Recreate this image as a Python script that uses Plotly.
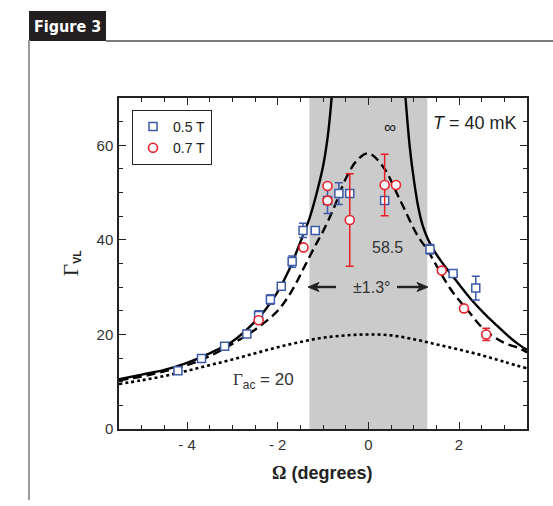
import plotly.graph_objects as go

# ---- data ----
sq_x = [-4.2, -3.68, -3.17, -2.68, -2.42, -2.16, -1.92, -1.68, -1.44, -1.17, -0.90, -0.65, -0.41, 0.36, 1.36, 1.87, 2.37]
sq_y = [12.3, 14.9, 17.5, 20.1, 24.0, 27.4, 30.2, 35.4, 42.0, 42.0, 48.3, 49.8, 49.8, 48.3, 38.0, 32.9, 29.8]
sq_err = [None, None, None, None, 1.0, 1.0, None, 1.2, 1.5, None, 2.7, 2.3, None, None, 1.0, None, 2.5]

ci_x = [-2.42, -1.43, -0.90, -0.90, -0.41, 0.36, 0.61, 1.62, 2.11, 2.60]
ci_y = [23.0, 38.4, 51.4, 48.3, 44.2, 51.6, 51.6, 33.5, 25.5, 20.0]
ci_err = [None, None, None, None, 9.8, 6.5, None, None, None, 1.3]

solid_x = [-5.5, -5.0, -4.5, -4.0, -3.5, -3.0, -2.5, -2.25, -2.0, -1.75, -1.5, -1.3, -1.15, -1.0, -0.9, -0.81, -0.74,
           None,
           0.74, 0.82, 0.91, 1.0, 1.1, 1.2, 1.32, 1.45, 1.62, 1.82, 2.0, 2.25, 2.56, 2.8, 3.07, 3.3, 3.5]
solid_y = [10.5, 11.5, 12.5, 14.0, 16.0, 18.5, 22.7, 25.5, 29.0, 33.6, 39.5, 44.5, 49.5, 55.5, 61.5, 70.0, 80.0,
           None,
           80.0, 70.0, 60.0, 53.0, 47.0, 43.0, 40.0, 37.7, 35.3, 32.8, 30.6, 27.6, 24.4, 22.2, 19.8, 18.0, 16.7]

dash_x = [-5.5, -5.0, -4.5, -4.0, -3.5, -3.0, -2.5, -2.04, -1.8, -1.59, -1.4, -1.18, -1.0, -0.78, -0.48, -0.25, 0.0,
          0.33, 0.7, 1.08, 1.3, 1.82, 2.2, 2.56, 3.0, 3.3, 3.5]
dash_y = [10.3, 11.1, 12.2, 13.5, 15.4, 18.0, 21.0, 24.6, 27.5, 30.9, 34.5, 38.6, 41.8, 46.3, 53.3, 56.8, 58.3,
          55.4, 48.4, 41.0, 37.9, 29.5, 25.0, 21.0, 18.2, 17.2, 16.2]

dot_x = [-5.5, -5.0, -4.5, -4.0, -3.5, -3.0, -2.5, -2.0, -1.5, -1.0, -0.5, 0.0, 0.5, 1.0, 1.5, 2.0, 2.5, 3.0, 3.5]
dot_y = [9.5, 10.3, 11.2, 12.3, 13.5, 14.7, 16.0, 17.3, 18.4, 19.3, 19.8, 20.0, 19.8, 19.0, 17.9, 16.8, 15.6, 14.2, 12.8]

band = [-1.3, 1.3]
x_ticks = [-4, -2, 0, 2]
x_tick_text = ["- 4", "- 2", "0", "2"]
y_ticks = [0, 20, 40, 60]

BLUE = "#3d5aa8"
RED = "#e8202a"
SANS = "Liberation Sans, Arial, sans-serif"

fig = go.Figure()

fig.add_trace(go.Scatter(x=dot_x, y=dot_y, mode="lines", showlegend=False,
                         line=dict(color="black", width=2.6, dash="3px,3px", shape="spline")))
fig.add_trace(go.Scatter(x=dash_x, y=dash_y, mode="lines", showlegend=False,
                         line=dict(color="black", width=2.4, dash="9px,5px", shape="spline")))
fig.add_trace(go.Scatter(x=solid_x, y=solid_y, mode="lines", showlegend=False, connectgaps=False,
                         line=dict(color="black", width=2.4, shape="spline", smoothing=0.9)))

fig.add_trace(go.Scatter(x=sq_x, y=sq_y, mode="markers", name="0.5 T",
                         marker=dict(symbol="square", size=8, color="white", line=dict(color=BLUE, width=1.5)),
                         error_y=dict(type="data", array=sq_err, color=BLUE, thickness=1.5, width=4)))
fig.add_trace(go.Scatter(x=ci_x, y=ci_y, mode="markers", name="0.7 T",
                         marker=dict(symbol="circle", size=9, color="white", line=dict(color=RED, width=1.6)),
                         error_y=dict(type="data", array=ci_err, color=RED, thickness=1.5, width=4)))

L, R, T, B = 119, 26, 98, 77
W, H = 553, 506
pw, ph = W - L - R, H - T - B


def px(x):
    return (x - L) / pw


def py(y):
    return (H - B - y) / ph


def arrow_path(tail, tip, y, head_len=11, half_w=4.5):
    d = 1 if tip > tail else -1
    base = tip - d * head_len
    return (f"M {px(tip)} {py(y)} L {px(base)} {py(y - half_w)} "
            f"L {px(base + d * 3)} {py(y)} L {px(base)} {py(y + half_w)} Z")


AY = 287
shapes = [
    dict(type="rect", xref="x", yref="paper", x0=band[0], x1=band[1], y0=0, y1=1,
         fillcolor="#cbcbcb", line=dict(width=0), layer="below"),
    dict(type="rect", xref="paper", yref="paper", x0=px(29), x1=px(106), y0=py(41), y1=py(11),
         fillcolor="#231f20", line=dict(width=0)),
    dict(type="line", xref="paper", yref="paper", x0=px(106), x1=px(553), y0=py(41), y1=py(41),
         line=dict(color="#7a7a7a", width=2)),
    dict(type="line", xref="paper", yref="paper", x0=px(29), x1=px(29), y0=py(40), y1=py(500),
         line=dict(color="#9a9a9a", width=2)),
    # +-1.3 degree arrows
    dict(type="line", xref="paper", yref="paper", x0=px(336), x1=px(316), y0=py(AY), y1=py(AY),
         line=dict(color="#222", width=2.4)),
    dict(type="path", xref="paper", yref="paper", path=arrow_path(336, 308, AY),
         fillcolor="#222", line=dict(color="#222", width=1)),
    dict(type="line", xref="paper", yref="paper", x0=px(397), x1=px(420), y0=py(AY), y1=py(AY),
         line=dict(color="#222", width=2.4)),
    dict(type="path", xref="paper", yref="paper", path=arrow_path(397, 428, AY),
         fillcolor="#222", line=dict(color="#222", width=1)),
]

annotations = [
    dict(text="<b>Figure 3</b>", xref="paper", yref="paper", x=px(67), y=py(26), showarrow=False,
         font=dict(family="DejaVu Sans Condensed, Arial Narrow, sans-serif", size=16, color="white"),
         xanchor="center", yanchor="middle"),
    dict(text="<i>T</i> = 40 mK", xref="paper", yref="paper", x=px(475), y=py(123), showarrow=False,
         font=dict(family=SANS, size=18, color="#222"), xanchor="center", yanchor="middle"),
    dict(text="∞", xref="paper", yref="paper", x=px(390), y=py(127), showarrow=False,
         font=dict(family=SANS, size=17, color="#222"), xanchor="center", yanchor="middle"),
    dict(text="58.5", xref="paper", yref="paper", x=px(387.5), y=py(247), showarrow=False,
         font=dict(family=SANS, size=16, color="#333"), xanchor="center", yanchor="middle"),
    dict(text="±1.3°", xref="paper", yref="paper", x=px(371), y=py(AY), showarrow=False,
         font=dict(family=SANS, size=16, color="#333"), xanchor="center", yanchor="middle"),
    dict(text="<span style='font-family:Liberation Serif'>Γ</span><sub>ac</sub> = 20", xref="paper", yref="paper",
         x=px(263), y=py(381), showarrow=False,
         font=dict(family=SANS, size=17, color="#333"), xanchor="center", yanchor="middle"),
    dict(text="<span style='font-family:Liberation Serif;font-size:21px'>Γ</span><sub><b>VL</b></sub>",
         xref="paper", yref="paper", x=px(71), y=py(263), showarrow=False, textangle=-90,
         font=dict(family=SANS, size=15, color="#222"), xanchor="center", yanchor="middle"),
    dict(text="<b><span style='font-family:Liberation Serif'>Ω</span> (degrees)</b>", xref="paper", yref="paper",
         x=px(322), y=py(473), showarrow=False,
         font=dict(family=SANS, size=18, color="#222"), xanchor="center", yanchor="middle"),
]

axis_common = dict(showgrid=False, zeroline=False, showline=True, linecolor="#222", linewidth=1.5,
                   mirror="ticks", ticks="inside", ticklen=7, tickwidth=1.3, tickcolor="#222",
                   tickfont=dict(family=SANS, size=15, color="#333"))

fig.update_layout(
    width=W, height=H,
    margin=dict(l=L, r=R, t=T, b=B),
    paper_bgcolor="white", plot_bgcolor="white",
    xaxis=dict(range=[-5.5, 3.5], tickvals=x_ticks, ticktext=x_tick_text,
               minor=dict(dtick=0.5, ticks="inside", ticklen=4, tickwidth=1.2, tickcolor="#222"),
               ticklabelstandoff=1, **axis_common),
    yaxis=dict(range=[0, 70], tickvals=y_ticks,
               minor=dict(dtick=5, ticks="inside", ticklen=4, tickwidth=1.2, tickcolor="#222"),
               ticklabelstandoff=1, **axis_common),
    legend=dict(x=px(132), y=py(110), xanchor="left", yanchor="top", bgcolor="white",
                bordercolor="#222", borderwidth=1, font=dict(family=SANS, size=14, color="#222"),
                tracegroupgap=0, itemwidth=30),
    shapes=shapes, annotations=annotations, showlegend=True,
)

fig.write_html("out.html", config={"displayModeBar": False},
               post_script="document.body.style.margin='0px';")
